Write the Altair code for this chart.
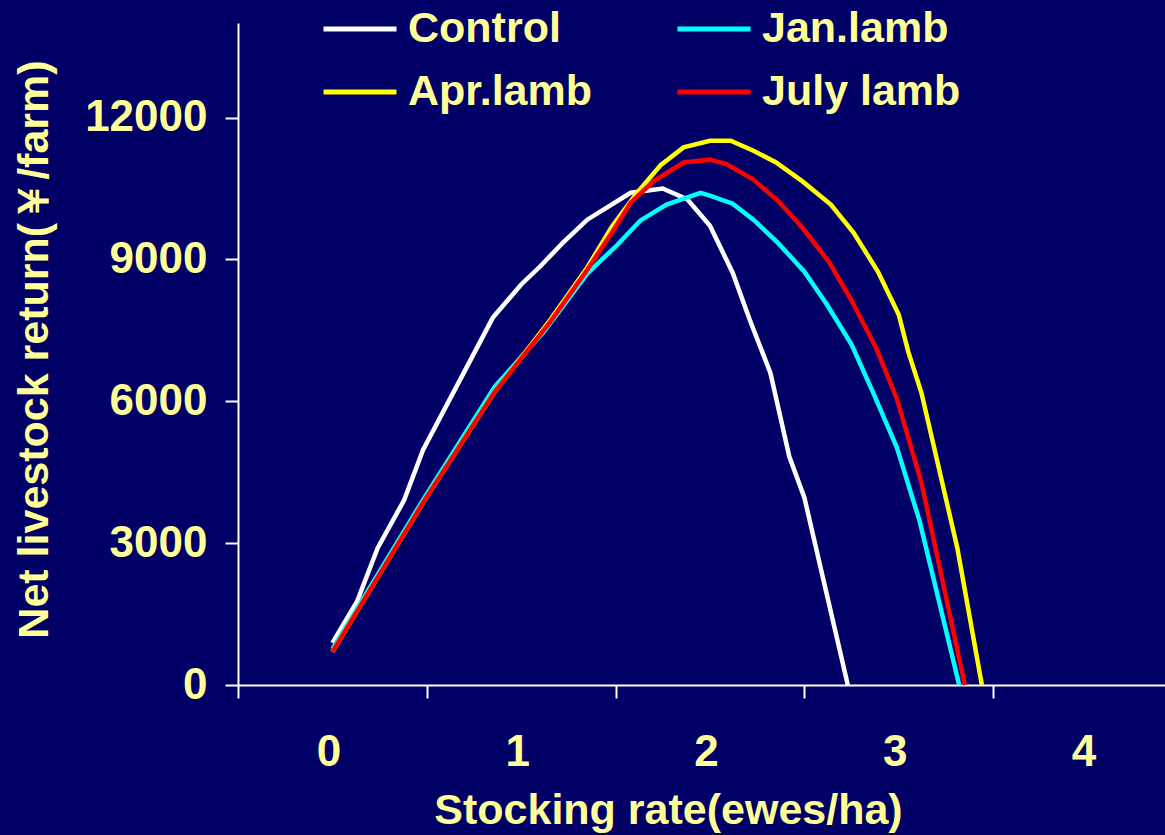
import altair as alt
import pandas as pd

# legend fills column-first: Control / Apr.lamb in column 1, Jan.lamb / July lamb in column 2
series_names = ["Control", "Apr.lamb", "Jan.lamb", "July lamb"]
series_colors = ["#FFFFFF", "#FFFF00", "#00FFFF", "#FF0000"]

control_x = [0, 0.13, 0.24, 0.38, 0.48, 0.85, 1.0, 1.1, 1.22, 1.35, 1.58, 1.75, 1.88, 2.0, 2.12, 2.21, 2.32, 2.42, 2.5, 2.73]
control_y = [890, 1760, 2900, 3910, 4970, 7770, 8470, 8850, 9350, 9840, 10410, 10500, 10270, 9710, 8720, 7730, 6600, 4830, 3960, 0]

jan_x = [0, 0.49, 0.86, 1.12, 1.35, 1.51, 1.63, 1.77, 1.95, 2.0, 2.12, 2.23, 2.36, 2.5, 2.62, 2.75, 2.86, 2.99, 3.11, 3.32]
jan_y = [760, 3980, 6310, 7470, 8700, 9310, 9820, 10160, 10410, 10350, 10180, 9840, 9350, 8740, 8040, 7200, 6220, 5020, 3470, 0]

apr_x = [0, 0.49, 0.86, 1.15, 1.35, 1.48, 1.61, 1.74, 1.86, 2.0, 2.11, 2.23, 2.35, 2.49, 2.64, 2.76, 2.89, 3.0, 3.05, 3.12, 3.31, 3.44]
apr_y = [700, 3920, 6200, 7700, 8830, 9690, 10390, 11000, 11370, 11510, 11510, 11300, 11050, 10650, 10160, 9570, 8740, 7830, 7050, 6180, 2900, 0]

jul_x = [0, 0.49, 0.86, 1.15, 1.35, 1.49, 1.58, 1.7, 1.86, 2.0, 2.09, 2.23, 2.36, 2.49, 2.63, 2.75, 2.88, 2.99, 3.12, 3.35]
jul_y = [700, 3920, 6200, 7660, 8780, 9630, 10200, 10650, 11050, 11110, 11010, 10690, 10240, 9670, 8950, 8130, 7130, 6050, 4280, 0]

x_tick_values = [-0.5, 0, 0.5, 1, 1.5, 2, 2.5, 3, 3.5, 4]
y_tick_values = [0, 3000, 6000, 9000, 12000]

rows = []
for name, xs, ys in [
    ("Control", control_x, control_y),
    ("Jan.lamb", jan_x, jan_y),
    ("Apr.lamb", apr_x, apr_y),
    ("July lamb", jul_x, jul_y),
]:
    for i, (xv, yv) in enumerate(zip(xs, ys)):
        rows.append({"series": name, "x": xv, "y": yv, "i": i})
df = pd.DataFrame(rows)

FONT = "Liberation Sans"
TXT = "#FFFF99"
BG = "#000066"

chart = alt.Chart(df).mark_line(strokeWidth=4.5).encode(
    x=alt.X(
        "x:Q",
        scale=alt.Scale(domain=[-0.5, 4.41], nice=False, zero=False),
        axis=alt.Axis(
            values=x_tick_values,
            format=".0f",
            title="Stocking rate(ewes/ha)",
            labelExpr="datum.value % 1 == 0 ? datum.label : ''",
            tickOpacity={"condition": {"test": "datum.value % 1 != 0", "value": 1}, "value": 0},
            labelOffset=-4,
            labelPadding=32,
            titleX=430,
            titleY=104,
        ),
    ),
    y=alt.Y(
        "y:Q",
        scale=alt.Scale(domain=[0, 14000], nice=False),
        axis=alt.Axis(
            values=y_tick_values,
            format="d",
            title="Net livestock return(￥/farm)",
            labelPadding=18,
            titleX=-182,
            titleY=326,
            titleAngle=270,
        ),
    ),
    color=alt.Color(
        "series:N",
        scale=alt.Scale(domain=series_names, range=series_colors),
        legend=alt.Legend(
            title=None,
            orient="none",
            legendX=83,
            legendY=-33,
            columns=2,
            columnPadding=75,
            rowPadding=2,
            symbolType="stroke",
            symbolSize=5329,
            symbolStrokeWidth=5,
            labelFont=FONT,
            labelFontSize=43,
            labelFontWeight="bold",
            labelColor=TXT,
            labelOffset=9,
            labelLimit=400,
            padding=0,
        ),
    ),
    order="i:Q",
).properties(
    width=927,
    height=662,
    background=BG,
    padding={"left": 238, "top": 23, "right": 0, "bottom": 150},
    autosize=alt.AutoSizeParams(type="none"),
).configure_view(
    stroke=None,
).configure_axis(
    grid=False,
    domainColor="#FFFFFF",
    domainWidth=2,
    tickColor="#FFFFFF",
    tickWidth=2,
    tickSize=13,
    labelFont=FONT,
    labelFontSize=44,
    labelFontWeight="bold",
    labelColor=TXT,
    titleFont=FONT,
    titleFontSize=43,
    titleFontWeight="bold",
    titleColor=TXT,
)

chart.save("out.html", embed_options={"renderer": "svg", "actions": False})
